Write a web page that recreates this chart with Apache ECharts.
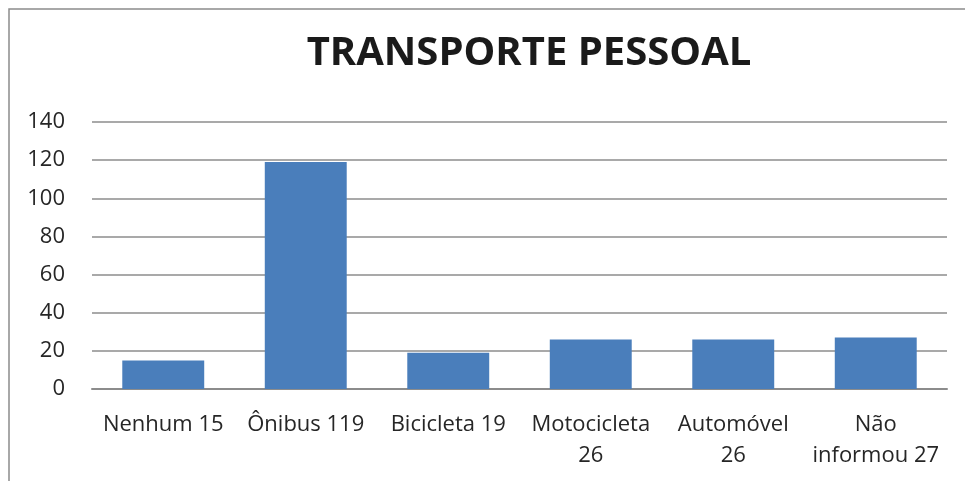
<!DOCTYPE html>
<html><head><meta charset="utf-8">
<script src="https://cdn.jsdelivr.net/npm/echarts@6/dist/echarts.min.js"></script>
<style>html,body{margin:0;padding:0;background:#fff}#c{width:965px;height:481px}</style>
</head><body><div id="c"></div>
<script>
const titleText = 'TRANSPORTE PESSOAL';
const categories = ['Nenhum 15', 'Ônibus 119', 'Bicicleta 19', 'Motocicleta\n26', 'Automóvel\n26', 'Não\ninformou 27'];
const values = [15, 119, 19, 26, 26, 27];
const yTicks = { min: 0, max: 140, interval: 20 };

const chart = echarts.init(document.getElementById('c'), null, { renderer: 'canvas' });
const font = 'Open Sans, Noto Sans, sans-serif';
chart.setOption({
  animation: false,
  backgroundColor: '#fff',
  title: {
    text: titleText, left: 524, top: 29, textAlign: 'center',
    textStyle: { fontFamily: font, fontSize: 40, fontWeight: 'bold', color: '#1a1a1a' }
  },
  graphic: [{
    type: 'rect', shape: { x: 9, y: 9, width: 1200, height: 800 },
    style: { fill: 'none', stroke: '#8c8c8c', lineWidth: 1.5 }, silent: true, z: -1
  }],
  grid: { left: 92, right: 18, top: 122, bottom: 92, containLabel: false },
  xAxis: {
    type: 'category', data: categories,
    axisTick: { show: false },
    axisLine: { show: true, lineStyle: { color: '#8c8c8c', width: 2 } },
    axisLabel: { color: '#262626', fontFamily: font, fontSize: 22, margin: 20, lineHeight: 31, interval: 0 }
  },
  yAxis: {
    type: 'value', min: yTicks.min, max: yTicks.max, interval: yTicks.interval,
    axisLine: { show: false }, axisTick: { show: false },
    axisLabel: { color: '#262626', fontFamily: font, fontSize: 22, margin: 27 },
    splitLine: { lineStyle: { color: '#8c8c8c', width: 1.5 } }
  },
  series: [{
    type: 'bar', data: values, barWidth: '57.5%',
    itemStyle: { color: '#4a7ebb' }
  }]
});
</script></body></html>
